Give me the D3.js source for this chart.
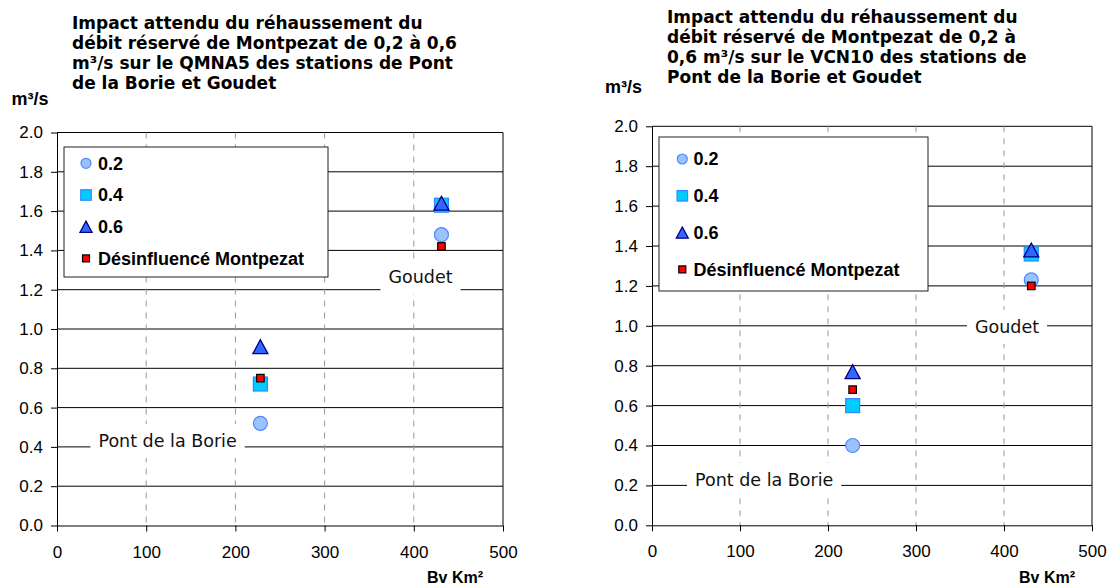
<!DOCTYPE html>
<html><head><meta charset="utf-8">
<script src="https://cdn.jsdelivr.net/npm/d3@7"></script>
<style>body{margin:0;background:#fff}svg{display:block}</style>
</head><body><svg id="c" width="1109" height="586"></svg>
<script>
// ---------- data ----------
const stations = ["Pont de la Borie", "Goudet"];
const bassinKm2 = [228, 431];
const seriesLabels = ["0.2", "0.4", "0.6", "Désinfluencé Montpezat"];
const qmna5_02 = [0.52, 1.48];
const qmna5_04 = [0.72, 1.63];
const qmna5_06 = [0.91, 1.64];
const qmna5_des = [0.75, 1.42];
const vcn10_02 = [0.40, 1.23];
const vcn10_04 = [0.60, 1.36];
const vcn10_06 = [0.77, 1.38];
const vcn10_des = [0.68, 1.20];
const xTickValues = [0, 100, 200, 300, 400, 500];
const yTickValues = [0.0, 0.2, 0.4, 0.6, 0.8, 1.0, 1.2, 1.4, 1.6, 1.8, 2.0];
const titleQMNA5 = ["Impact attendu du réhaussement du", "débit réservé de Montpezat de 0,2 à 0,6", "m³/s sur le QMNA5 des stations de Pont", "de la Borie et Goudet"];
const titleVCN10 = ["Impact attendu du réhaussement du", "débit réservé de Montpezat de 0,2 à", "0,6 m³/s sur le VCN10 des stations de", "Pont de la Borie et Goudet"];
const yUnitLabel = "m³/s";
const xAxisLabel = "Bv Km²";

// ---------- styles ----------
const markerStyles = [
  {shape: "circle", fill: "#99C2FF", stroke: "#4F86FF", size: 14, lsize: 10},
  {shape: "square", fill: "#00CCFF", stroke: "#3388FF", size: 14, lsize: 10.5},
  {shape: "triangle", fill: "#3366FF", stroke: "#000080", size: 15, lsize: 12},
  {shape: "square", fill: "#FF0000", stroke: "#000000", size: 7.5, lsize: 7}
];

const charts = [
  {series: [qmna5_02, qmna5_04, qmna5_06, qmna5_des], title: titleQMNA5,
   x0: 57, x1: 503, yTop: 132.5, yBot: 525.5,
   titleX: 72, titleY: 29, unitX: 11.5, unitY: 105, xLabX: 455,
   legend: {x: 64, y: 147, w: 264, h: 130, row0: 163.3, step: 31.7, mx: 86, tx: 98},
   stationPos: [[124, 0.43], [407.5, 1.265]]},
  {series: [vcn10_02, vcn10_04, vcn10_06, vcn10_des], title: titleVCN10,
   x0: 652, x1: 1092, yTop: 126.3, yBot: 525.3,
   titleX: 667, titleY: 23.3, unitX: 605, unitY: 92.5, xLabX: 1047,
   legend: {x: 659, y: 137, w: 269, h: 154, row0: 159, step: 36.8, mx: 682.3, tx: 693.5},
   stationPos: [[127.5, 0.229], [403.4, 0.994]]}
];

const svg = d3.select("#c");

function drawMarker(g, st, cx, cy, s) {
  if (st.shape === "circle") {
    g.append("circle").attr("cx", cx).attr("cy", cy).attr("r", s / 2)
      .attr("fill", st.fill).attr("stroke", st.stroke).attr("stroke-width", 1.2);
  } else if (st.shape === "square") {
    g.append("rect").attr("x", cx - s / 2).attr("y", cy - s / 2).attr("width", s).attr("height", s)
      .attr("fill", st.fill).attr("stroke", st.stroke).attr("stroke-width", 1.2);
  } else {
    const h = s * 0.93;
    g.append("path").attr("d", `M${cx},${cy - h / 2}L${cx + s / 2},${cy + h / 2}L${cx - s / 2},${cy + h / 2}Z`)
      .attr("fill", st.fill).attr("stroke", st.stroke).attr("stroke-width", 1.3).attr("stroke-linejoin", "miter");
  }
}

charts.forEach(c => {
  const g = svg.append("g");
  const x = d3.scaleLinear().domain([0, 500]).range([c.x0, c.x1]);
  const y = d3.scaleLinear().domain([0, 2]).range([c.yBot, c.yTop]);

  // title
  const t = g.append("text").attr("x", c.titleX).attr("y", c.titleY)
    .attr("font-family", "DejaVu Sans").attr("font-weight", "bold").attr("font-size", 17).attr("fill", "#000");
  c.title.forEach((line, i) => t.append("tspan").attr("x", c.titleX).attr("y", c.titleY + i * 20).text(line));

  // unit label
  g.append("text").attr("x", c.unitX).attr("y", c.unitY).text(yUnitLabel)
    .attr("font-family", "Liberation Sans").attr("font-weight", "bold").attr("font-size", 18);

  // horizontal gridlines
  g.append("g").selectAll("line").data(yTickValues.filter(v => v > 0)).join("line")
    .attr("x1", c.x0).attr("x2", c.x1).attr("y1", d => y(d)).attr("y2", d => y(d))
    .attr("stroke", "#000").attr("stroke-width", 1);
  // vertical dashed gridlines
  g.append("g").selectAll("line").data(xTickValues.filter(v => v > 0 && v < 500)).join("line")
    .attr("x1", d => x(d)).attr("x2", d => x(d)).attr("y1", c.yTop).attr("y2", c.yBot)
    .attr("stroke", "#999").attr("stroke-width", 1).attr("stroke-dasharray", "6,6");
  // right border
  g.append("line").attr("x1", c.x1).attr("x2", c.x1).attr("y1", c.yTop).attr("y2", c.yBot)
    .attr("stroke", "#000");

  // axes
  const ya = g.append("g").attr("transform", `translate(${c.x0},0)`)
    .call(d3.axisLeft(y).tickValues(yTickValues).tickFormat(d3.format(".1f")).tickSize(6).tickSizeOuter(0).tickPadding(8));
  const xa = g.append("g").attr("transform", `translate(0,${c.yBot})`)
    .call(d3.axisBottom(x).tickValues(xTickValues).tickFormat(d3.format("d")).tickSize(6).tickSizeOuter(0).tickPadding(14));
  [ya, xa].forEach(a => {
    a.selectAll("text").attr("font-family", "Liberation Sans").attr("font-size", 17).attr("fill", "#000");
    a.selectAll("line,path").attr("stroke", "#000");
  });

  // x axis title
  g.append("text").attr("x", c.xLabX).attr("y", 583).attr("text-anchor", "middle").text(xAxisLabel)
    .attr("font-family", "Liberation Sans").attr("font-weight", "bold").attr("font-size", 16);

  // legend
  const L = c.legend;
  g.append("rect").attr("x", L.x).attr("y", L.y).attr("width", L.w).attr("height", L.h)
    .attr("fill", "#fff").attr("stroke", "#222").attr("stroke-width", 1);
  seriesLabels.forEach((lab, i) => {
    const ry = L.row0 + i * L.step;
    drawMarker(g, markerStyles[i], L.mx, ry, markerStyles[i].lsize);
    g.append("text").attr("x", L.tx).attr("y", ry).attr("dy", "0.36em").text(lab)
      .attr("font-family", "Liberation Sans").attr("font-weight", "bold").attr("font-size", 18);
  });

  // station labels
  stations.forEach((s, i) => {
    const [bx, by] = c.stationPos[i];
    const lt = g.append("text").attr("x", x(bx)).attr("y", y(by)).attr("dy", "0.36em")
      .attr("text-anchor", "middle").text(s)
      .attr("font-family", "DejaVu Sans").attr("font-size", 17.5).attr("fill", "#111");
    const w = lt.node().getComputedTextLength();
    g.insert("rect", () => lt.node()).attr("x", x(bx) - w / 2 - 8).attr("y", y(by) - 17)
      .attr("width", w + 16).attr("height", 34).attr("fill", "#fff");
  });

  // data markers
  c.series.forEach((vals, si) => {
    vals.forEach((v, k) => drawMarker(g, markerStyles[si], x(bassinKm2[k]), y(v), markerStyles[si].size));
  });
});
</script>
</body></html>
